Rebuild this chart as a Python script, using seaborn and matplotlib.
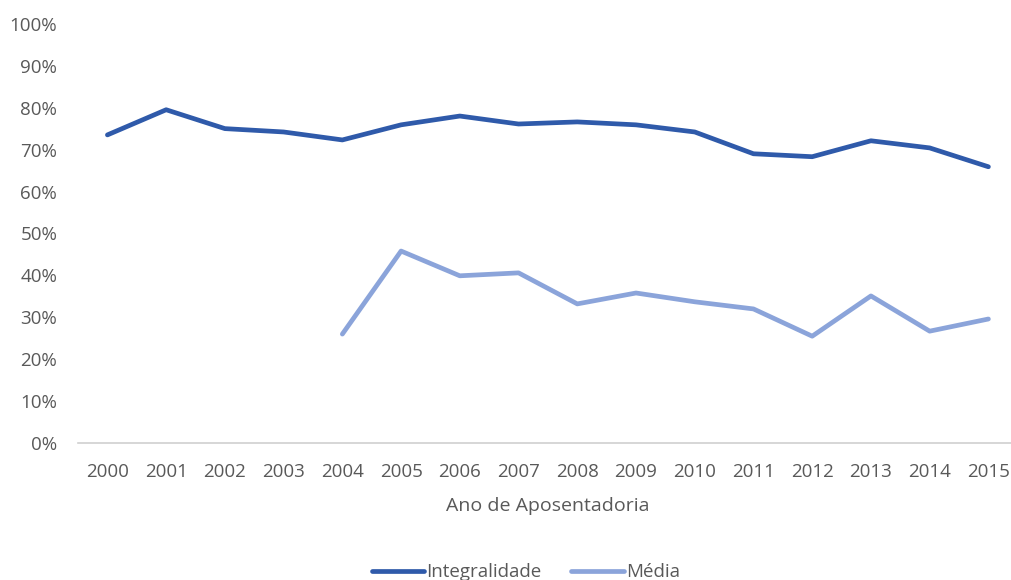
import numpy as np
import pandas as pd
import seaborn as sns
import matplotlib.pyplot as plt
from matplotlib.ticker import PercentFormatter
from matplotlib.lines import Line2D

anos = list(range(2000, 2016))
integralidade = [73.5, 79.5, 75.0, 74.2, 72.3, 75.9, 78.0, 76.1, 76.6, 75.9, 74.2, 69.0, 68.3, 72.1, 70.4, 65.9]
media = [np.nan, np.nan, np.nan, np.nan, 26.0, 45.8, 39.9, 40.6, 33.2, 35.8, 33.7, 32.0, 25.5, 35.1, 26.7, 29.6]

df = pd.DataFrame({"Ano": anos * 2,
                   "Valor": integralidade + media,
                   "Serie": ["Integralidade"] * len(anos) + ["Média"] * len(anos)})
df = df.dropna()

sns.set_style("white")
plt.rcParams["font.family"] = ["Open Sans", "DejaVu Sans"]
cinza = "#595959"
cores = {"Integralidade": "#2F5AAA", "Média": "#8BA4DA"}

fig = plt.figure(figsize=(10.11, 5.8), dpi=100)
ax = fig.add_axes([0.0772, 0.236, 0.9295, 0.723])

sns.lineplot(data=df, x="Ano", y="Valor", hue="Serie", palette=cores,
             linewidth=3.4, ax=ax, legend=False, solid_capstyle="round")

ax.set_xlim(1999.5, 2015.5)
ax.set_ylim(0, 100)
ax.set_xticks(anos)
ax.set_yticks(range(0, 101, 10))
ax.yaxis.set_major_formatter(PercentFormatter(decimals=0))
ax.tick_params(axis="both", colors=cinza, labelsize=13.5, length=0)
ax.tick_params(axis="x", pad=14)
ax.tick_params(axis="y", pad=15)
for s in ["top", "right", "left"]:
    ax.spines[s].set_visible(False)
ax.spines["bottom"].set_color("#D0D0D0")
ax.spines["bottom"].set_linewidth(1.2)
ax.set_xlabel("Ano de Aposentadoria", color=cinza, fontsize=14, labelpad=12)
ax.set_ylabel("")

handles = [Line2D([], [], color=cores["Integralidade"], lw=3.4, solid_capstyle="round"),
           Line2D([], [], color=cores["Média"], lw=3.4, solid_capstyle="round")]
leg = fig.legend(handles, ["Integralidade", "Média"], loc="center",
                 bbox_to_anchor=(0.52, 0.013), ncol=2, frameon=False,
                 fontsize=13.5, handlelength=2.8, handletextpad=0.1, columnspacing=1.6)
for t in leg.get_texts():
    t.set_color(cinza)

fig.savefig("out.png", dpi=100)
